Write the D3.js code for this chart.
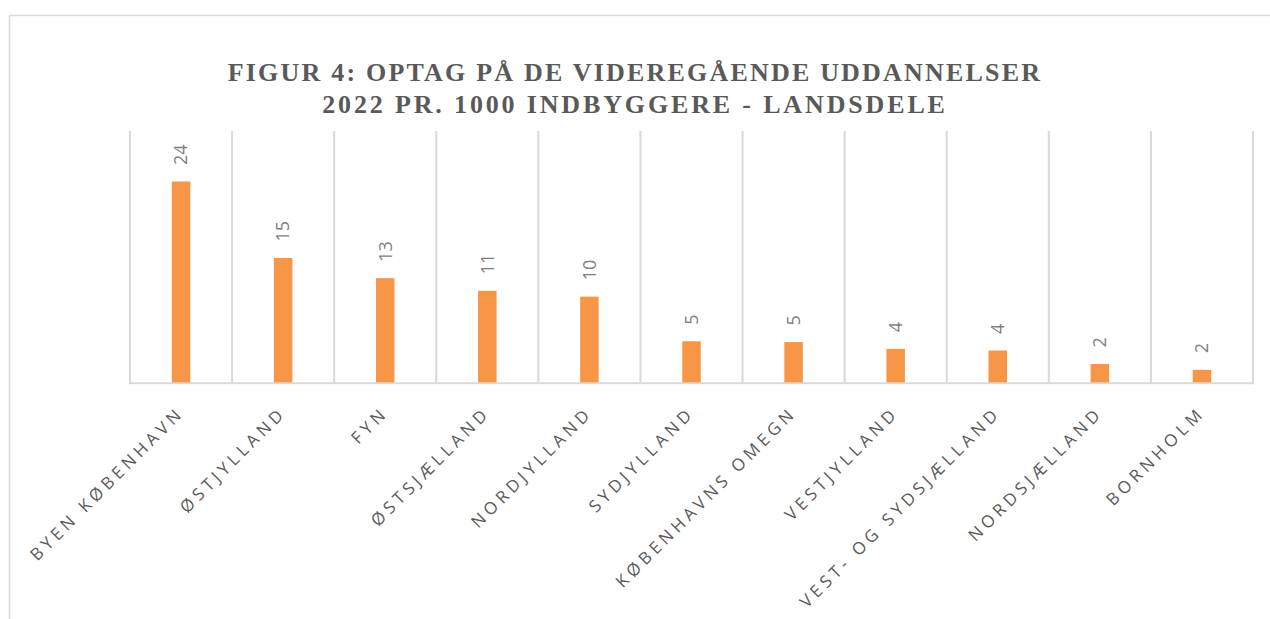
<!DOCTYPE html>
<html>
<head>
<meta charset="utf-8">
<script src="https://cdn.jsdelivr.net/npm/d3@7"></script>
<style>
  body { margin: 0; background: #fff; }
</style>
</head>
<body>
<div class="chart"></div>
<script>
var categories = ["BYEN KØBENHAVN", "ØSTJYLLAND", "FYN", "ØSTSJÆLLAND", "NORDJYLLAND", "SYDJYLLAND",
  "KØBENHAVNS OMEGN", "VESTJYLLAND", "VEST- OG SYDSJÆLLAND", "NORDSJÆLLAND", "BORNHOLM"];
var values = [24.0, 14.9, 12.5, 11.0, 10.3, 5.0, 4.9, 4.1, 3.9, 2.3, 1.6];
var titleLines = ["FIGUR 4: OPTAG PÅ DE VIDEREGÅENDE UDDANNELSER", "2022 PR. 1000 INDBYGGERE - LANDSDELE"];

var svgWidth = 1270;
var svgHeight = 619;

var plot = { left: 130, right: 1253, top: 131, bottom: 383.3 };

var svg = d3.select(".chart")
  .append("svg")
  .attr("width", svgWidth)
  .attr("height", svgHeight);

// chart frame
svg.append("rect")
  .attr("x", 9.5)
  .attr("y", 15.5)
  .attr("width", 1300)
  .attr("height", 700)
  .attr("fill", "none")
  .attr("stroke", "#d9d9d9")
  .attr("stroke-width", 1.5);

var data = categories.map((c, i) => ({ name: c, value: values[i] }));

var xScale = d3.scaleBand()
  .domain(categories)
  .range([plot.left, plot.right])
  .padding(0);

var yScale = d3.scaleLinear()
  .domain([0, 30])
  .range([plot.bottom, plot.top]);

var barWidth = 18.5;

// vertical gridlines between categories
var gridX = categories.map(c => xScale(c)).concat([plot.right]);
svg.selectAll(".grid")
  .data(gridX)
  .enter()
  .append("line")
  .attr("class", "grid")
  .attr("x1", d => d)
  .attr("x2", d => d)
  .attr("y1", plot.top)
  .attr("y2", plot.bottom)
  .attr("stroke", "#d9d9d9")
  .attr("stroke-width", 2);

svg.selectAll(".bar")
  .data(data)
  .enter()
  .append("rect")
  .attr("class", "bar")
  .attr("x", d => xScale(d.name) + (xScale.bandwidth() - barWidth) / 2)
  .attr("y", d => yScale(d.value))
  .attr("width", barWidth)
  .attr("height", d => plot.bottom - yScale(d.value))
  .attr("fill", "#f79646");

// baseline
svg.append("line")
  .attr("x1", plot.left - 1)
  .attr("x2", plot.right + 1)
  .attr("y1", plot.bottom)
  .attr("y2", plot.bottom)
  .attr("stroke", "#d9d9d9")
  .attr("stroke-width", 2);

// value labels
svg.selectAll(".vlabel")
  .data(data)
  .enter()
  .append("text")
  .attr("class", "vlabel")
  .attr("transform", d => `translate(${xScale(d.name) + xScale.bandwidth() / 2}, ${yScale(d.value) - 16.5}) rotate(-90)`)
  .attr("dy", "0.35em")
  .attr("fill", "#7f7f7f")
  .style("font-family", "'Open Sans', sans-serif")
  .style("font-size", "18px")
  .text(d => d3.format(".0f")(d.value));

// category labels
svg.selectAll(".clabel")
  .data(data)
  .enter()
  .append("text")
  .attr("class", "clabel")
  .attr("transform", d => `translate(${xScale(d.name) + xScale.bandwidth() / 2 + 4}, 414) rotate(-45)`)
  .attr("text-anchor", "end")
  .attr("fill", "#595959")
  .style("font-family", "'Open Sans', sans-serif")
  .style("font-size", "17px")
  .style("letter-spacing", "4.2px")
  .text(d => d.name);

// title
svg.selectAll(".title")
  .data(titleLines)
  .enter()
  .append("text")
  .attr("class", "title")
  .attr("x", 635)
  .attr("y", (d, i) => 81 + i * 32)
  .attr("text-anchor", "middle")
  .attr("fill", "#595959")
  .style("font-family", "'Liberation Serif', serif")
  .style("font-weight", "bold")
  .style("font-size", "26px")
  .style("letter-spacing", (d, i) => i ? "2.85px" : "2.2px")
  .text(d => d);
</script>
</body>
</html>
